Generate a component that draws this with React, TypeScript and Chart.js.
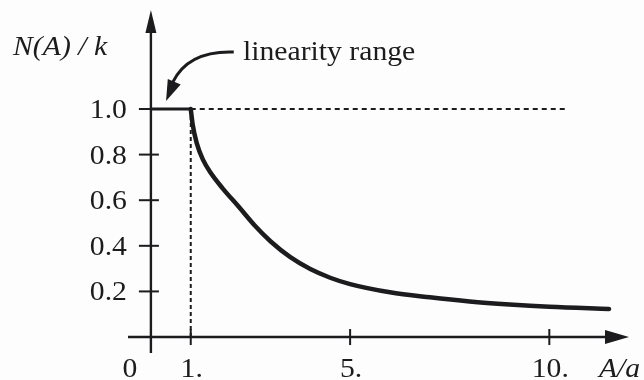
import { useEffect, useRef } from "react";
import { Chart, registerables } from "chart.js";

Chart.register(...registerables);

// Describing function of a saturation element, normalised by the linear gain k.
const ampRatio = [1, 1.05, 1.15, 1.3, 1.5, 1.8, 2.2, 2.6, 3.0, 3.5, 4.0, 4.5, 5.0, 6.0, 7.0, 8.0, 9.0, 10, 11.5];
const gainRatio = [1, 0.93, 0.85, 0.78, 0.72, 0.652, 0.572, 0.49, 0.42, 0.35, 0.298, 0.26, 0.232, 0.196, 0.174, 0.156, 0.143, 0.133, 0.123];

// Linear range: unit gain up to A/a = 1
const linearX = [0, 1];
const linearY = [1, 1];

// Dotted guides
const unitLevelX = [1, 10.4];
const unitLevelY = [1, 1];
const kneeX = [1, 1];
const kneeY = [1, 0];

const yTickValues = [0.2, 0.4, 0.6, 0.8, 1.0];
const yTickLabels = ["0.2", "0.4", "0.6", "0.8", "1.0"];
const xTickValues = [1, 5, 10];
const xTickLabels = ["1.", "5.", "10."];

const yTitle = "N(A) / k";
const xTitle = "A/a";
const noteText = "linearity range";

const INK = "#1c1c1e";
const FAMILY = '"Liberation Serif", "Times New Roman", Times, serif';
const STRETCH = 1.1;

function toPoints(xs: number[], ys: number[]) {
  return xs.map((x, i) => ({ x, y: ys[i] }));
}

function stretchedText(
  ctx: CanvasRenderingContext2D,
  text: string,
  x: number,
  y: number,
  align: "left" | "right" | "center",
  italic = false
) {
  ctx.save();
  ctx.font = `${italic ? "italic " : ""}27px ${FAMILY}`;
  ctx.fillStyle = INK;
  ctx.textBaseline = "alphabetic";
  const w = ctx.measureText(text).width * STRETCH;
  let left = x;
  if (align === "right") left = x - w;
  if (align === "center") left = x - w / 2;
  ctx.translate(left, y);
  ctx.scale(STRETCH, 1);
  ctx.textAlign = "left";
  ctx.fillText(text, 0, 0);
  ctx.restore();
}

function arrowHead(
  ctx: CanvasRenderingContext2D,
  tipX: number,
  tipY: number,
  dx: number,
  dy: number,
  len: number,
  half: number
) {
  const n = Math.hypot(dx, dy);
  const ux = dx / n;
  const uy = dy / n;
  const bx = tipX - ux * len;
  const by = tipY - uy * len;
  ctx.beginPath();
  ctx.moveTo(tipX, tipY);
  ctx.lineTo(bx - uy * half, by + ux * half);
  ctx.lineTo(bx + uy * half, by - ux * half);
  ctx.closePath();
  ctx.fill();
}

const figurePlugin = {
  id: "figureAxes",
  beforeDraw(chart: Chart) {
    const { ctx, width, height } = chart;
    ctx.save();
    ctx.fillStyle = "#fdfdfd";
    ctx.fillRect(0, 0, width, height);
    ctx.restore();
  },
  beforeDatasetsDraw(chart: Chart) {
    const { ctx } = chart;
    const xs = chart.scales.x;
    const ys = chart.scales.y;
    const x0 = xs.getPixelForValue(0);
    const y0 = ys.getPixelForValue(0);
    const xL = xs.getPixelForValue(xs.min);
    const xR = xs.getPixelForValue(xs.max);
    const yT = ys.getPixelForValue(ys.max);
    const yB = ys.getPixelForValue(ys.min);

    ctx.save();
    ctx.strokeStyle = INK;
    ctx.fillStyle = INK;
    ctx.lineWidth = 2.4;
    ctx.lineCap = "butt";

    // x axis with arrow
    ctx.beginPath();
    ctx.moveTo(xL, y0);
    ctx.lineTo(xR - 12, y0);
    ctx.stroke();
    arrowHead(ctx, xR, y0, 1, 0, 24, 7);

    // y axis with arrow
    ctx.beginPath();
    ctx.moveTo(x0, yB);
    ctx.lineTo(x0, yT + 12);
    ctx.stroke();
    arrowHead(ctx, x0, yT, 0, -1, 23, 5.5);

    // ticks
    ctx.lineWidth = 2;
    yTickValues.forEach((v) => {
      const py = ys.getPixelForValue(v);
      ctx.beginPath();
      ctx.moveTo(x0 - 12, py);
      ctx.lineTo(x0 + 8, py);
      ctx.stroke();
    });
    xTickValues.forEach((v) => {
      const px = xs.getPixelForValue(v);
      ctx.beginPath();
      ctx.moveTo(px, y0 - 8);
      ctx.lineTo(px, y0 + 8);
      ctx.stroke();
    });
    ctx.restore();
  },
  afterDraw(chart: Chart) {
    const { ctx } = chart;
    const xs = chart.scales.x;
    const ys = chart.scales.y;
    const x0 = xs.getPixelForValue(0);
    const y0 = ys.getPixelForValue(0);
    const base = y0 + 40;

    yTickValues.forEach((v, i) => {
      stretchedText(ctx, yTickLabels[i], x0 - 24, ys.getPixelForValue(v) + 9, "right");
    });
    xTickValues.forEach((v, i) => {
      stretchedText(ctx, xTickLabels[i], xs.getPixelForValue(v) + 1, base, "center");
    });
    stretchedText(ctx, "0", x0 - 21, base, "center");
    stretchedText(ctx, xTitle, xs.getPixelForValue(11.245), base, "left", true);
    stretchedText(ctx, yTitle, xs.getPixelForValue(-3.46), ys.getPixelForValue(1.235), "left", true);

    // annotation for the linear range
    stretchedText(ctx, noteText, xs.getPixelForValue(2.31), ys.getPixelForValue(1.213), "left");
    const p = (x: number, y: number) => [xs.getPixelForValue(x), ys.getPixelForValue(y)];
    const [sx, sy] = p(2.08, 1.25);
    const [c1x, c1y] = p(1.25, 1.255);
    const [c2x, c2y] = p(0.78, 1.2);
    const [ex, ey] = p(0.55, 1.118);
    const [tx, ty] = p(0.38, 1.035);
    ctx.save();
    ctx.strokeStyle = INK;
    ctx.fillStyle = INK;
    ctx.lineWidth = 3;
    ctx.beginPath();
    ctx.moveTo(sx, sy);
    ctx.bezierCurveTo(c1x, c1y, c2x, c2y, ex, ey);
    ctx.stroke();
    arrowHead(ctx, tx, ty, tx - c2x, ty - c2y, 21, 7);
    ctx.restore();
  },
};

export default function App() {
  const canvasRef = useRef<HTMLCanvasElement | null>(null);

  useEffect(() => {
    const canvas = canvasRef.current;
    if (!canvas) return;
    let chart: Chart | null = null;
    let cancelled = false;

    const build = () => {
      if (cancelled) return;
      chart = new Chart(canvas, {
        type: "line",
        data: {
          datasets: [
            {
              label: "unit level",
              data: toPoints(unitLevelX, unitLevelY),
              borderColor: INK,
              borderWidth: 2,
              borderDash: [5, 4],
              pointRadius: 0,
            },
            {
              label: "knee",
              data: toPoints(kneeX, kneeY),
              borderColor: INK,
              borderWidth: 2,
              borderDash: [4, 3],
              pointRadius: 0,
            },
            {
              label: "linear range",
              data: toPoints(linearX, linearY),
              borderColor: INK,
              borderWidth: 3,
              pointRadius: 0,
            },
            {
              label: "N(A)/k",
              data: toPoints(ampRatio, gainRatio),
              borderColor: INK,
              borderWidth: 4.5,
              pointRadius: 0,
              cubicInterpolationMode: "monotone",
              borderCapStyle: "round",
              borderJoinStyle: "round",
            },
          ],
        },
        options: {
          animation: false,
          responsive: false,
          devicePixelRatio: 1,
          layout: { padding: { left: 128, right: 15, top: 10, bottom: 27 } },
          scales: {
            x: { type: "linear", min: -0.575, max: 12, display: false },
            y: { type: "linear", min: -0.07, max: 1.434, display: false },
          },
          plugins: {
            legend: { display: false },
            tooltip: { enabled: false },
          },
          elements: { line: { fill: false } },
        },
        plugins: [figurePlugin],
      });
    };

    const fonts = (document as any).fonts;
    if (fonts && fonts.load) {
      Promise.all([
        fonts.load('27px "Liberation Serif"'),
        fonts.load('italic 27px "Liberation Serif"'),
      ])
        .catch(() => undefined)
        .then(build);
    } else {
      build();
    }

    return () => {
      cancelled = true;
      if (chart) chart.destroy();
    };
  }, []);

  return (
    <div style={{ position: "fixed", left: 0, top: 0, width: 644, height: 380, background: "#fdfdfd" }}>
      <canvas ref={canvasRef} width={644} height={380} style={{ display: "block", width: 644, height: 380 }} />
    </div>
  );
}
